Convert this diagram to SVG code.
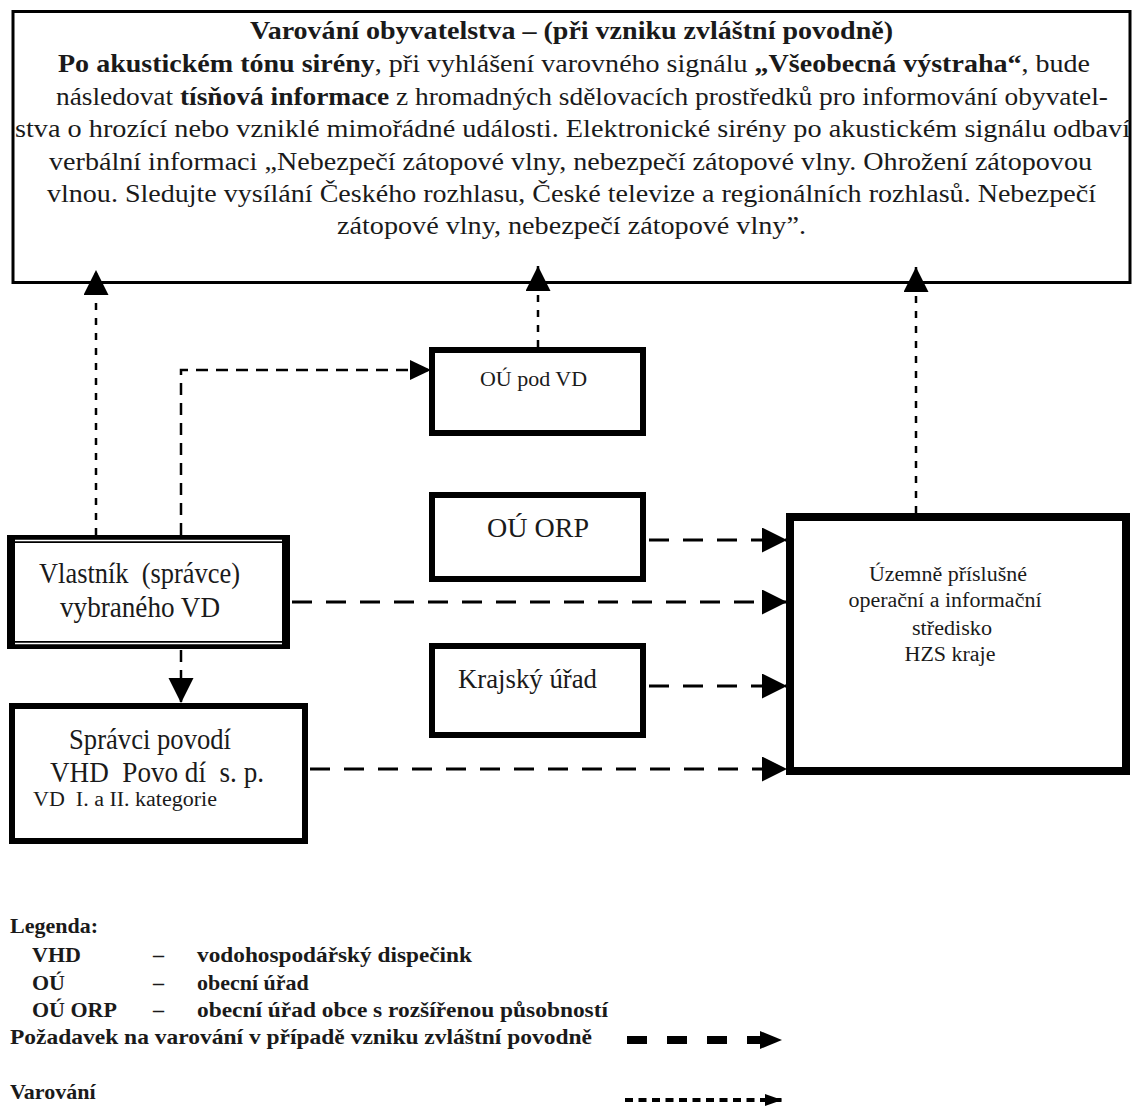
<svg xmlns="http://www.w3.org/2000/svg" width="1136" height="1106" viewBox="0 0 1136 1106">
<style>
  .t { font-family: "Liberation Serif", "Times New Roman", serif; fill: #1a1a1a; }
  .b { font-weight: bold; }
  .box { fill: #fff; stroke: #000; }
  .req { fill: none; stroke: #000; stroke-width: 3; stroke-dasharray: 20 14; }
  .req2 { fill: none; stroke: #000; stroke-width: 2.5; stroke-dasharray: 12 8; }
  .warn { fill: none; stroke: #000; stroke-width: 2.5; stroke-dasharray: 7 8; }
</style>
<defs>
  <marker id="ah" markerUnits="userSpaceOnUse" markerWidth="26" markerHeight="26" refX="25" refY="12.5" orient="auto" viewBox="0 0 26 26">
    <path d="M0,0 L25,12.5 L0,25 z" fill="#000"/>
  </marker>
  <marker id="ahs" markerUnits="userSpaceOnUse" markerWidth="22" markerHeight="22" refX="21" refY="10" orient="auto" viewBox="0 0 22 22">
    <path d="M0,0 L21,10 L0,20 z" fill="#000"/>
  </marker>
  <marker id="ahl" markerUnits="userSpaceOnUse" markerWidth="24" markerHeight="20" refX="22" refY="9" orient="auto" viewBox="0 0 24 20">
    <path d="M0,0 L22,9 L0,18 z" fill="#000"/>
  </marker>
  <marker id="ahd" markerUnits="userSpaceOnUse" markerWidth="18" markerHeight="14" refX="17" refY="6" orient="auto" viewBox="0 0 18 14">
    <path d="M0,0 L17,6 L0,12 z" fill="#000"/>
  </marker>
</defs>

<g id="warning-box">
  <rect class="box" x="13" y="11.5" width="1117" height="271" stroke-width="3"/>
  <text class="t b" x="250" y="39" font-size="25" textLength="643" lengthAdjust="spacingAndGlyphs">Varování obyvatelstva – (při vzniku zvláštní povodně)</text>
  <text class="t" x="58" y="72" font-size="25" textLength="1032" lengthAdjust="spacingAndGlyphs"><tspan class="b">Po akustickém tónu sirény</tspan>, při vyhlášení varovného signálu <tspan class="b">„Všeobecná výstraha“</tspan>, bude</text>
  <text class="t" x="56" y="105" font-size="25" textLength="1052" lengthAdjust="spacingAndGlyphs">následovat <tspan class="b">tísňová informace</tspan> z hromadných sdělovacích prostředků pro informování obyvatel-</text>
  <text class="t" x="15" y="137" font-size="25" textLength="1115" lengthAdjust="spacingAndGlyphs">stva o hrozící nebo vzniklé mimořádné události. Elektronické sirény po akustickém signálu odbaví</text>
  <text class="t" x="49" y="170" font-size="25" textLength="1043" lengthAdjust="spacingAndGlyphs">verbální informaci „Nebezpečí zátopové vlny, nebezpečí zátopové vlny. Ohrožení zátopovou</text>
  <text class="t" x="47" y="202" font-size="25" textLength="1049" lengthAdjust="spacingAndGlyphs">vlnou. Sledujte vysílání Českého rozhlasu, České televize a regionálních rozhlasů. Nebezpečí</text>
  <text class="t" x="337" y="234" font-size="25" textLength="469" lengthAdjust="spacingAndGlyphs">zátopové vlny, nebezpečí zátopové vlny”.</text>
</g>

<g id="connectors">
  <!-- Varování (dotted) -->
  <line class="warn" x1="96" y1="535" x2="96" y2="270" marker-end="url(#ah)"/>
  <line class="warn" x1="538" y1="347" x2="538" y2="266" marker-end="url(#ah)"/>
  <line class="warn" x1="916" y1="513" x2="916" y2="267" marker-end="url(#ah)"/>
  <!-- Požadavek (dashed) -->
  <path class="req2" d="M181,535 V370 H431" marker-end="url(#ahs)"/>
  <line class="req2" x1="181" y1="650" x2="181" y2="703" marker-end="url(#ah)"/>
  <line class="req" x1="649" y1="540" x2="787" y2="540" marker-end="url(#ah)"/>
  <line class="req" x1="292" y1="602" x2="787" y2="602" marker-end="url(#ah)"/>
  <line class="req" x1="649" y1="686" x2="787" y2="686" marker-end="url(#ah)"/>
  <line class="req" x1="310" y1="769" x2="787" y2="769" marker-end="url(#ah)"/>
</g>

<g id="node-ou-pod-vd">
  <rect class="box" x="432" y="350" width="211" height="83" stroke-width="6"/>
  <text class="t" x="480" y="386" font-size="20" textLength="107" lengthAdjust="spacingAndGlyphs">OÚ pod VD</text>
</g>

<g id="node-ou-orp">
  <rect class="box" x="432" y="495" width="211" height="84" stroke-width="6"/>
  <text class="t" x="487" y="537" font-size="27" textLength="102" lengthAdjust="spacingAndGlyphs">OÚ ORP</text>
</g>

<g id="node-krajsky-urad">
  <rect class="box" x="432" y="646" width="211" height="89" stroke-width="6"/>
  <text class="t" x="458" y="688" font-size="27" textLength="139" lengthAdjust="spacingAndGlyphs">Krajský úřad</text>
</g>

<g id="node-vlastnik">
  <rect class="box" x="11" y="539" width="275" height="106" stroke-width="8"/>
  <line x1="15" y1="540.5" x2="282" y2="540.5" stroke="#fff" stroke-width="1.5"/>
  <line x1="15" y1="643.5" x2="282" y2="643.5" stroke="#fff" stroke-width="1.5"/>
  <text class="t" x="39" y="583" font-size="30" textLength="201" lengthAdjust="spacingAndGlyphs" xml:space="preserve">Vlastník  (správce)</text>
  <text class="t" x="60" y="617" font-size="30" textLength="160" lengthAdjust="spacingAndGlyphs">vybraného VD</text>
</g>

<g id="node-spravci-povodi">
  <rect class="box" x="12" y="706" width="293" height="135" stroke-width="6"/>
  <text class="t" x="69" y="749" font-size="29" textLength="162" lengthAdjust="spacingAndGlyphs">Správci povodí</text>
  <text class="t" x="50" y="782" font-size="29" textLength="214" lengthAdjust="spacingAndGlyphs" xml:space="preserve">VHD  Povo dí  s. p.</text>
  <text class="t" x="33" y="806" font-size="20" textLength="184" lengthAdjust="spacingAndGlyphs" xml:space="preserve">VD  I. a II. kategorie</text>
</g>

<g id="node-hzs">
  <rect class="box" x="790" y="517" width="336" height="254" stroke-width="8"/>
  <text class="t" x="948" y="581" font-size="20" text-anchor="middle" textLength="158" lengthAdjust="spacingAndGlyphs">Územně příslušné</text>
  <text class="t" x="945" y="607" font-size="20" text-anchor="middle" textLength="193" lengthAdjust="spacingAndGlyphs">operační a informační</text>
  <text class="t" x="952" y="635" font-size="20" text-anchor="middle" textLength="80" lengthAdjust="spacingAndGlyphs">středisko</text>
  <text class="t" x="950" y="661" font-size="20" text-anchor="middle" textLength="91" lengthAdjust="spacingAndGlyphs">HZS kraje</text>
</g>

<g id="legend">
  <text class="t b" x="10" y="933" font-size="22">Legenda:</text>
  <text class="t b" x="32" y="962" font-size="22">VHD</text>
  <text class="t b" x="153" y="962" font-size="22">–</text>
  <text class="t b" x="197" y="962" font-size="22" textLength="275" lengthAdjust="spacingAndGlyphs">vodohospodářský dispečink</text>
  <text class="t b" x="32" y="990" font-size="22">OÚ</text>
  <text class="t b" x="153" y="990" font-size="22">–</text>
  <text class="t b" x="197" y="990" font-size="22">obecní úřad</text>
  <text class="t b" x="32" y="1017" font-size="22">OÚ ORP</text>
  <text class="t b" x="153" y="1017" font-size="22">–</text>
  <text class="t b" x="197" y="1017" font-size="22" textLength="411" lengthAdjust="spacingAndGlyphs">obecní úřad obce s rozšířenou působností</text>
  <text class="t b" x="10" y="1044" font-size="22" textLength="582" lengthAdjust="spacingAndGlyphs">Požadavek na varování v případě vzniku zvláštní povodně</text>
  <line x1="627" y1="1040" x2="782" y2="1040" stroke="#000" stroke-width="8" stroke-dasharray="20 20" marker-end="url(#ahl)"/>
  <text class="t b" x="10" y="1099" font-size="22">Varování</text>
  <line x1="625" y1="1100" x2="782" y2="1100" stroke="#000" stroke-width="4" stroke-dasharray="8 5.5" marker-end="url(#ahd)"/>
</g>
</svg>
